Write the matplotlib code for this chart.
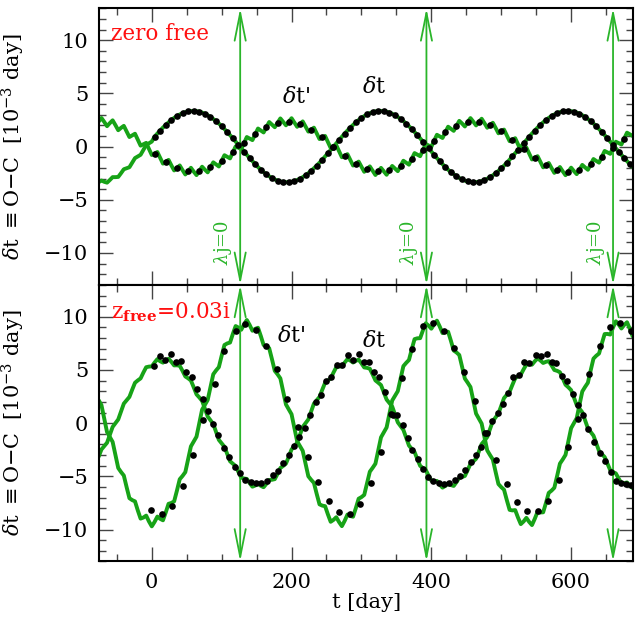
import numpy as np
import matplotlib
matplotlib.use("Agg")
import matplotlib.pyplot as plt
from matplotlib.ticker import MultipleLocator

# ---------------- data ----------------
# model curves sampled every 4 days from t=-76 to t=688
curve_t = np.arange(-76, 689, 4)

# top panel ("zero free")
top_dt_curve = [
    -3.35, -3.19, -3.31, -3.39, -3.14, -2.87, -2.87, -2.85, -2.50, -2.13,
    -2.04, -1.94, -1.51, -1.08, -0.93, -0.77, -0.31, 0.15, 0.31, 0.47,
    0.93, 1.23, 1.51, 1.79, 2.04, 2.28, 2.50, 2.70, 2.87, 3.02,
    3.14, 3.24, 3.31, 3.34, 3.35, 3.33, 3.28, 3.20, 3.09, 2.95,
    2.79, 2.60, 2.40, 2.17, 1.92, 1.65, 1.37, 1.08, 0.78, 0.47,
    0.16, -0.16, -0.47, -0.78, -1.08, -1.37, -1.65, -1.92, -2.17, -2.40,
    -2.60, -2.79, -2.95, -3.09, -3.20, -3.28, -3.33, -3.35, -3.34, -3.31,
    -3.24, -3.14, -3.02, -2.87, -2.70, -2.50, -2.28, -2.04, -1.79, -1.51,
    -1.23, -0.93, -0.62, -0.31, 0.00, 0.31, 0.62, 0.93, 1.23, 1.51,
    1.79, 2.04, 2.28, 2.50, 2.70, 2.87, 3.02, 3.14, 3.24, 3.31,
    3.34, 3.35, 3.33, 3.28, 3.20, 3.09, 2.95, 2.79, 2.60, 2.40,
    2.17, 1.92, 1.65, 1.37, 1.08, 0.78, 0.47, 0.16, -0.16, -0.47,
    -0.78, -1.08, -1.37, -1.65, -1.92, -2.17, -2.40, -2.60, -2.79, -2.95,
    -3.09, -3.20, -3.28, -3.33, -3.35, -3.34, -3.31, -3.24, -3.14, -3.02,
    -2.87, -2.70, -2.50, -2.28, -2.04, -1.79, -1.51, -1.23, -0.93, -0.62,
    -0.31, 0.00, 0.31, 0.62, 0.93, 1.23, 1.51, 1.79, 2.04, 2.28,
    2.50, 2.70, 2.87, 3.02, 3.14, 3.24, 3.31, 3.34, 3.35, 3.33,
    3.28, 3.20, 3.09, 2.95, 2.79, 2.60, 2.40, 2.17, 1.92, 1.65,
    1.37, 1.08, 0.78, 0.47, 0.16, -0.16, -0.47, -0.78, -1.08, -1.37,
    -1.65, -1.92,
]
top_dtp_curve = [
    2.35, 2.69, 2.32, 1.92, 2.21, 2.47, 2.02, 1.54, 1.76, 1.95,
    1.43, 0.90, 1.06, 1.21, 0.65, 0.09, 0.22, 0.35, -0.22, -0.79,
    -0.65, -0.51, -1.06, -1.60, -1.43, -1.25, -1.76, -2.24, -2.02, -1.77,
    -2.21, -2.62, -2.32, -1.99, -2.35, -2.68, -2.30, -1.89, -2.17, -2.42,
    -1.96, -1.48, -1.68, -1.87, -1.35, -0.81, -0.96, -1.11, -0.55, 0.02,
    -0.11, -0.24, 0.33, 0.90, 0.76, 0.61, 1.16, 1.70, 1.52, 1.33,
    1.83, 2.31, 2.07, 1.82, 2.24, 2.65, 2.33, 2.00, 2.34, 2.67,
    2.27, 1.86, 2.12, 2.37, 1.89, 1.41, 1.60, 1.78, 1.25, 0.71,
    0.86, 1.00, 0.44, -0.13, 0.00, 0.13, -0.44, -1.00, -0.86, -0.71,
    -1.25, -1.78, -1.60, -1.41, -1.89, -2.37, -2.12, -1.86, -2.27, -2.67,
    -2.34, -2.00, -2.33, -2.65, -2.24, -1.82, -2.07, -2.31, -1.83, -1.33,
    -1.52, -1.70, -1.16, -0.61, -0.76, -0.90, -0.33, 0.24, 0.11, -0.02,
    0.55, 1.11, 0.96, 0.81, 1.35, 1.87, 1.68, 1.48, 1.96, 2.42,
    2.17, 1.89, 2.30, 2.68, 2.35, 1.99, 2.32, 2.62, 2.21, 1.77,
    2.02, 2.24, 1.76, 1.25, 1.43, 1.60, 1.06, 0.51, 0.65, 0.79,
    0.22, -0.35, -0.22, -0.09, -0.65, -1.21, -1.06, -0.90, -1.43, -1.95,
    -1.76, -1.54, -2.02, -2.47, -2.21, -1.92, -2.32, -2.69, -2.35, -1.98,
    -2.30, -2.59, -2.17, -1.72, -1.96, -2.18, -1.68, -1.17, -1.35, -1.51,
    -0.96, -0.41, -0.55, -0.68, -0.11, 0.46, 0.33, 0.20, 0.76, 1.31,
    1.16, 1.00,
]

# bottom panel (z_free = 0.03i)
bot_dt_curve = [
    -3.15, -2.47, -2.16, -1.84, -1.10, -0.35, 0.00, 0.35, 1.10, 1.84,
    2.16, 2.47, 3.15, 3.80, 4.02, 4.21, 4.76, 5.26, 5.32, 5.34,
    5.70, 6.02, 5.82, 5.69, 5.90, 6.06, 5.77, 5.43, 5.44, 5.40,
    4.92, 4.39, 4.22, 4.01, 3.38, 2.71, 2.42, 2.10, 1.37, 0.63,
    0.28, -0.08, -0.83, -1.57, -1.90, -2.22, -2.91, -3.58, -3.81, -4.02,
    -4.59, -5.12, -5.20, -5.24, -5.63, -5.97, -5.86, -5.70, -5.89, -6.02,
    -5.70, -5.34, -5.32, -5.26, -4.76, -4.21, -4.02, -3.80, -3.15, -2.47,
    -2.16, -1.84, -1.10, -0.35, 0.00, 0.35, 1.10, 1.84, 2.16, 2.47,
    3.15, 3.80, 4.02, 4.21, 4.76, 5.26, 5.32, 5.34, 5.70, 6.02,
    5.89, 5.70, 5.86, 5.97, 5.63, 5.24, 5.20, 5.12, 4.59, 4.02,
    3.81, 3.58, 2.91, 2.22, 1.90, 1.57, 0.83, 0.08, -0.28, -0.63,
    -1.37, -2.10, -2.42, -2.71, -3.38, -4.01, -4.22, -4.39, -4.92, -5.40,
    -5.44, -5.43, -5.77, -6.06, -5.90, -5.69, -5.82, -5.90, -5.54, -5.12,
    -5.06, -4.96, -4.41, -3.82, -3.60, -3.35, -2.67, -1.96, -1.64, -1.30,
    -0.55, 0.20, 0.55, 0.90, 1.64, 2.36, 2.67, 2.95, 3.60, 4.22,
    4.41, 4.56, 5.06, 5.52, 5.54, 5.50, 5.82, 6.09, 5.90, 5.66,
    5.77, 5.83, 5.44, 5.00, 4.92, 4.79, 4.22, 3.61, 3.38, 3.11,
    2.42, 1.70, 1.37, 1.03, 0.28, -0.48, -0.83, -1.17, -1.90, -2.62,
    -2.91, -3.18, -3.81, -4.42, -4.59, -4.72, -5.20, -5.64, -5.63, -5.57,
    -5.86, -6.10,
]
bot_dtp_curve = [
    2.16, 1.70, 0.44, -0.84, -1.30, -1.76, -3.00, -4.21, -4.59, -4.92,
    -6.01, -7.05, -7.23, -7.35, -8.20, -8.97, -8.87, -8.69, -9.24, -9.70,
    -9.28, -8.78, -8.99, -9.13, -8.39, -7.58, -7.50, -7.35, -6.34, -5.27,
    -4.96, -4.60, -3.41, -2.18, -1.73, -1.27, 0.00, 1.27, 1.73, 2.18,
    3.41, 4.60, 4.96, 5.27, 6.34, 7.35, 7.50, 7.58, 8.39, 9.13,
    8.99, 8.78, 9.28, 9.70, 9.24, 8.69, 8.87, 8.97, 8.20, 7.35,
    7.23, 7.05, 6.01, 4.92, 4.59, 4.21, 3.00, 1.76, 1.30, 0.84,
    -0.44, -1.70, -2.16, -2.60, -3.81, -4.99, -5.32, -5.61, -6.65, -7.63,
    -7.75, -7.80, -8.57, -9.27, -9.09, -8.84, -9.30, -9.68, -9.18, -8.59,
    -8.73, -8.79, -7.98, -7.10, -6.95, -6.74, -5.67, -4.56, -4.20, -3.81,
    -2.58, -1.33, -0.87, -0.40, 0.87, 2.13, 2.58, 3.01, 4.20, 5.36,
    5.67, 5.94, 6.95, 7.90, 7.98, 7.99, 8.73, 9.39, 9.18, 8.88,
    9.30, 9.64, 9.09, 8.47, 8.57, 8.60, 7.75, 6.83, 6.65, 6.41,
    5.32, 4.19, 3.81, 3.40, 2.16, 0.90, 0.44, -0.04, -1.30, -2.56,
    -3.00, -3.41, -4.59, -5.72, -6.01, -6.25, -7.23, -8.15, -8.20, -8.17,
    -8.87, -9.49, -9.24, -8.90, -9.28, -9.58, -8.99, -8.33, -8.39, -8.38,
    -7.50, -6.55, -6.34, -6.07, -4.96, -3.80, -3.41, -2.98, -1.73, -0.47,
    0.00, 0.47, 1.73, 2.98, 3.41, 3.80, 4.96, 6.07, 6.34, 6.55,
    7.50, 8.38, 8.39, 8.33, 8.99, 9.58, 9.28, 8.90, 9.24, 9.49,
    8.87, 8.17,
]

# measured points
top_dt_dots_t = np.arange(4, 685, 8)
top_dt_dots = [
    0.93, 1.51, 2.04, 2.50, 2.87, 3.14, 3.31, 3.35, 3.28, 3.09,
    2.79, 2.40, 1.92, 1.37, 0.78, 0.16, -0.47, -1.08, -1.65, -2.17,
    -2.60, -2.95, -3.20, -3.33, -3.34, -3.24, -3.02, -2.70, -2.28, -1.79,
    -1.23, -0.62, 0.00, 0.62, 1.23, 1.79, 2.28, 2.70, 3.02, 3.24,
    3.34, 3.33, 3.20, 2.95, 2.60, 2.17, 1.65, 1.08, 0.47, -0.16,
    -0.78, -1.37, -1.92, -2.40, -2.79, -3.09, -3.28, -3.35, -3.31, -3.14,
    -2.87, -2.50, -2.04, -1.51, -0.93, -0.31, 0.31, 0.93, 1.51, 2.04,
    2.50, 2.87, 3.14, 3.31, 3.35, 3.28, 3.09, 2.79, 2.40, 1.92,
    1.37, 0.78, 0.16, -0.47, -1.08, -1.65,
]
top_dtp_dots_t = np.arange(4, 677, 16)
top_dtp_dots = [
    -0.65, -1.43, -2.02, -2.32, -2.30, -1.96, -1.35, -0.55, 0.33, 1.16,
    1.83, 2.24, 2.34, 2.12, 1.60, 0.86, 0.00, -0.86, -1.60, -2.12,
    -2.34, -2.24, -1.83, -1.16, -0.33, 0.55, 1.35, 1.96, 2.30, 2.32,
    2.02, 1.43, 0.65, -0.22, -1.06, -1.76, -2.21, -2.35, -2.17, -1.68,
    -0.96, -0.11, 0.76,
]

bot_dt_dots_t = [
    3.3, 12.4, 19.5, 27.0, 35.0, 42.0, 49.5, 57.6, 65.0, 73.0,
    80.0, 87.6, 94.8, 103.0, 111.0, 118.6, 126.7, 134.0, 142.0, 149.5,
    156.7, 165.0, 173.0, 180.5, 187.6, 195.7, 203.0, 211.0, 218.6, 225.7,
    235.0, 242.0, 249.5, 256.6, 265.0, 272.0, 280.5, 287.6, 296.0, 304.0,
    311.0, 318.6, 325.7, 334.0, 344.8, 350.5, 359.0, 366.0, 373.0, 380.5,
    387.6, 395.7, 403.0, 410.5, 417.6, 424.8, 433.8, 441.0, 448.6, 456.6,
    463.8, 471.0, 479.5, 486.7, 494.8, 502.0, 510.0, 517.0, 524.8, 533.0,
    540.0, 549.5, 556.7, 564.8, 572.0, 579.0, 586.7, 594.8, 603.0, 610.5,
    617.0, 624.8, 632.8, 641.0, 648.6, 656.7, 663.8, 671.0, 679.0, 686.0,
]
bot_dt_dots = [
    5.33, 6.29, 5.90, 6.48, 5.74, 5.84, 4.78, 4.37, 3.19, 2.23,
    1.12, -0.10, -1.10, -2.30, -3.20, -4.10, -4.70, -5.30, -5.50, -5.65,
    -5.65, -5.40, -4.90, -4.50, -3.70, -3.00, -2.10, -1.30, -0.50, 0.80,
    2.00, 2.65, 4.00, 4.37, 5.50, 5.50, 6.40, 5.97, 6.50, 5.74,
    5.74, 4.80, 4.30, 2.97, 0.80, 0.80, -0.16, -1.44, -2.55, -3.35,
    -4.30, -5.10, -5.40, -5.65, -5.74, -5.65, -5.36, -4.95, -4.37, -3.67,
    -3.03, -2.23, -0.96, 0.22, 0.96, 1.80, 2.87, 4.37, 4.56, 5.74,
    5.65, 6.38, 6.29, 6.48, 5.74, 5.65, 4.47, 3.99, 2.70, 1.75,
    0.74, -0.54, -1.75, -2.78, -3.60, -4.56, -5.42, -5.65, -5.74, -5.84,
]
bot_dtp_dots_t = [
    -0.5, 14.8, 29.5, 44.8, 59.0, 74.0, 90.0, 104.0, 120.0, 134.0,
    149.5, 163.8, 179.0, 193.0, 209.0, 223.0, 237.6, 253.0, 268.6, 283.0,
    298.0, 313.0, 328.0, 342.0, 358.0, 372.0, 388.0, 403.0, 417.6, 432.0,
    447.0, 462.0, 477.0, 492.0, 507.6, 522.0, 537.6, 553.0, 567.6, 582.0,
    596.0, 610.0, 625.7, 641.0, 655.0, 670.0, 685.0,
]
bot_dtp_dots = [
    -8.20, -8.50, -7.75, -5.90, -3.00, 0.30, 3.70, 6.80, 8.70, 9.30,
    8.80, 7.30, 5.07, 2.30, -0.40, -3.20, -5.50, -7.30, -8.36, -8.50,
    -7.56, -5.60, -2.70, 0.86, 4.24, 7.00, 9.15, 9.40, 8.70, 7.10,
    4.80, 2.07, -0.96, -3.50, -5.74, -7.40, -8.30, -8.30, -7.30, -5.30,
    -2.20, 0.40, 4.60, 7.30, 9.00, 9.40, 8.70,
]

# epochs where lambda_j = 0
lambda_zero_t = [126.5, 393.0, 660.0]

panel_titles = ["zero free", r"z$_{\mathbf{free}}$=0.03i"]
tick_vals_x = [0, 200, 400, 600]

# ---------------- style ----------------
plt.rcParams['font.family'] = ['DejaVu Serif']
plt.rcParams['mathtext.fontset'] = 'dejavuserif'

GREEN = '#17a317'
LINE_GREEN = '#2ab52a'
RED = '#ff1010'
XLIM = (-75, 689)
YLIM = (-13, 13)

fig = plt.figure(figsize=(6.41, 6.20), dpi=100)
ax_top = fig.add_axes([0.155, 0.5405, 0.833, 0.4461])
ax_bot = fig.add_axes([0.155, 0.0944, 0.833, 0.4461])

panels = [
    (ax_top, top_dt_curve, top_dtp_curve, top_dt_dots_t, top_dt_dots,
     top_dtp_dots_t, top_dtp_dots),
    (ax_bot, bot_dt_curve, bot_dtp_curve, bot_dt_dots_t, bot_dt_dots,
     bot_dtp_dots_t, bot_dtp_dots),
]

label_pos = {
    'top': {'dtp': (206, 4.7), 'dt': (318, 5.6), 'title': (-58, 10.6)},
    'bot': {'dtp': (200, 8.2), 'dt': (318, 7.7), 'title': (-58, 10.4)},
}

for i, (ax, c1, c2, d1t, d1, d2t, d2) in enumerate(panels):
    key = 'top' if i == 0 else 'bot'
    ax.plot(curve_t, c2, color=GREEN, lw=2.8, solid_joinstyle='round',
            solid_capstyle='round', zorder=2)
    ax.plot(curve_t, c1, color=GREEN, lw=2.8, solid_joinstyle='round',
            solid_capstyle='round', zorder=2)
    ax.plot(d1t, d1, 'o', color='black', ms=4.8, mew=0, zorder=4)
    ax.plot(d2t, d2, 'o', color='black', ms=4.8, mew=0, zorder=4)

    for x in lambda_zero_t:
        ax.annotate('', xy=(x, YLIM[1]), xytext=(x, YLIM[0]),
                    arrowprops=dict(arrowstyle='<->,head_length=2.0,head_width=0.4',
                                    color=LINE_GREEN, lw=1.3, shrinkA=0, shrinkB=0,
                                    mutation_scale=10),
                    zorder=3, annotation_clip=False)
        if i == 0:
            ax.text(x - 25, -9.0, r'$\lambda$j=0', rotation=90, color=LINE_GREEN,
                    fontsize=13, ha='center', va='center')

    ax.text(*label_pos[key]['title'], panel_titles[i], color=RED, fontsize=15.5,
            ha='left', va='center')
    ax.text(*label_pos[key]['dtp'], r"$\delta$t'", fontsize=16, ha='center',
            va='center')
    ax.text(*label_pos[key]['dt'], r"$\delta$t", fontsize=16, ha='center',
            va='center')

    ax.set_xlim(*XLIM)
    ax.set_ylim(*YLIM)
    ax.set_xticks(tick_vals_x)
    ax.xaxis.set_minor_locator(MultipleLocator(50))
    ax.yaxis.set_major_locator(MultipleLocator(5))
    ax.yaxis.set_minor_locator(MultipleLocator(1))
    ax.tick_params(which='both', direction='in', top=True, right=True)
    ax.tick_params(which='major', length=10, width=1.0, color='#444444',
                   labelsize=15, pad=8)
    ax.tick_params(which='minor', length=5, width=1.0, color='#444444')
    for s in ax.spines.values():
        s.set_linewidth(1.5)
    ax.set_ylabel(r'$\delta$t $\equiv$O$-$C  [10$^{-3}$ day]', fontsize=15)
    ax.yaxis.set_label_coords(-0.135, 0.5)

ax_top.tick_params(labelbottom=False)
ax_bot.set_xlabel('t [day]', fontsize=15, labelpad=1)

fig.savefig('out.png', dpi=100)
